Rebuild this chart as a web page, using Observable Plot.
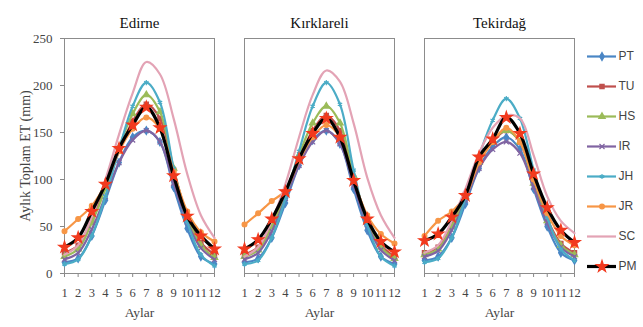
<!DOCTYPE html>
<html><head><meta charset="utf-8">
<script src="https://cdn.jsdelivr.net/npm/d3@7"></script>
<script src="https://cdn.jsdelivr.net/npm/@observablehq/plot@0.6"></script>
<style>
body{margin:0;background:#fff}
#wrap{position:relative;width:643px;height:327px;overflow:hidden;background:#fff}
#wrap > svg{position:absolute;top:0}
#wrap > svg.main text{font-family:"Liberation Serif","Times New Roman",serif}
#wrap > svg.leg text{font-family:"Liberation Sans Narrow","Liberation Sans",sans-serif}
</style></head><body><div id="wrap"></div>
<script>
const months = [1,2,3,4,5,6,7,8,9,10,11,12];
const cities = ["Edirne","Kırklareli","Tekirdağ"];
const seriesNames = ["PT","TU","HS","IR","JH","JR","SC","PM"];
const lineColors = ["#4a86c5","#c0504d","#9bbb59","#8064a2","#4bacc6","#f79646","#e3a3b5","#000000"];
const markerColors = ["#4a86c5","#c0504d","#9bbb59","#8064a2","#4bacc6","#f79646",null,"#f23a1e"];
const markerSymbols = ["diamond","square","triangle","times","asterisk","circle",null,"star"];
const yTicks = [0,50,100,150,200,250];

// series order: PT, TU, HS, IR, JH, JR, SC, PM
const edirneET = [
  [12,16,40,78,118,145,152,140,92,48,18,10],
  [22,30,58,92,130,162,180,165,110,62,33,20],
  [18,26,54,90,134,170,190,172,112,60,30,17],
  [15,22,47,82,118,142,152,140,96,55,27,15],
  [10,15,40,82,132,178,203,182,112,55,20,8],
  [45,58,72,95,130,154,166,154,108,66,44,34],
  [20,30,60,100,148,192,225,212,165,106,62,38],
  [28,38,66,95,133,158,177,155,104,61,40,26]
];
const kirklareliET = [
  [12,16,38,75,115,142,152,138,90,46,18,10],
  [20,28,54,86,122,152,168,152,102,58,30,18],
  [18,25,50,85,126,160,178,160,104,56,28,16],
  [15,22,45,80,115,140,152,138,94,52,25,14],
  [10,14,38,80,130,178,203,180,110,52,18,8],
  [52,64,77,88,120,145,158,145,100,62,42,32],
  [18,28,56,95,145,190,216,204,160,102,62,38],
  [26,36,58,87,122,149,165,145,99,58,34,23]
];
const tekirdagET = [
  [14,18,38,74,112,135,145,132,90,50,22,14],
  [22,28,52,84,118,140,152,140,98,58,32,22],
  [20,26,50,82,118,142,152,140,96,56,30,20],
  [18,24,46,78,112,132,140,128,92,54,28,18],
  [12,16,38,80,125,163,186,165,110,60,26,14],
  [40,56,66,82,118,140,155,140,100,64,40,30],
  [22,30,56,90,128,155,168,165,126,82,56,43],
  [35,42,60,83,124,143,166,149,106,70,46,33]
];
const cityValues = [edirneET, kirklareliET, tekirdagET];

const rows = [];
cities.forEach((c, ci) => cityValues[ci].forEach((vals, si) => vals.forEach((v, mi) =>
  rows.push({city: c, series: seriesNames[si], month: months[mi], value: v}))));

const serif = "'Liberation Serif', 'Times New Roman', serif";
const marks = [];
seriesNames.forEach((s, si) => {
  const d = rows.filter(r => r.series === s);
  marks.push(Plot.line(d, {x: "month", y: "value", fx: "city", stroke: lineColors[si],
    strokeWidth: s === "PM" ? 3.2 : 2.2, curve: "catmull-rom"}));
  if (markerSymbols[si]) {
    marks.push(Plot.dot(d, {x: "month", y: "value", fx: "city", symbol: markerSymbols[si],
      fill: markerColors[si], stroke: markerColors[si], strokeWidth: 1.2,
      r: s === "PM" ? 3.6 : 2.4}));
  }
});

const chart = Plot.plot({
  width: 643, height: 327,
  marginLeft: 64, marginRight: 69, marginTop: 38, marginBottom: 54,
  style: {fontFamily: serif, fontSize: "12px", color: "#444", background: "transparent"},
  fx: {domain: cities, paddingInner: 1/6, paddingOuter: 0, label: null},
  x: {domain: [1, 12]},
  y: {domain: [0, 250]},
  marks: [
    Plot.axisFx({anchor: "top", tickSize: 0, tickPadding: 11, fontSize: 15, fill: "#111", label: null, fontFamily: serif}),
    Plot.axisX({ticks: months, tickSize: 4, tickPadding: 11, label: null, fontSize: 12.5, stroke: "#888", fontFamily: serif}),
    Plot.axisY({ticks: yTicks, tickSize: 4, tickPadding: 8, fontSize: 13, stroke: "#888", fontFamily: serif, label: null}),
    Plot.axisY({ticks: [], tickSize: 0, fontSize: 14, fontFamily: serif,
      label: "Aylık Toplam ET (mm)", labelAnchor: "center", labelOffset: 44, labelArrow: "none"}),
    Plot.frame({stroke: "#8c8c8c"}),
    ...marks,
    Plot.text(cities, {fx: d => d, text: () => "Aylar", frameAnchor: "bottom", dy: 43, fontSize: 13.5, fontFamily: serif, fill: "#444"})
  ]
});
chart.classList.add("main");
document.getElementById("wrap").appendChild(chart);

const sans = "'Liberation Sans Narrow', 'Liberation Sans', sans-serif";
const legendMarks = [];
seriesNames.forEach((s, si) => {
  legendMarks.push(Plot.ruleY([s], {y: d => d, stroke: lineColors[si], strokeWidth: s === "PM" ? 3.2 : 2.2}));
  if (markerSymbols[si]) legendMarks.push(Plot.dot([s], {y: d => d, frameAnchor: "middle",
    symbol: markerSymbols[si], fill: markerColors[si], stroke: markerColors[si], strokeWidth: 1.2,
    r: s === "PM" ? 3.6 : 2.4}));
  legendMarks.push(Plot.text([s], {y: d => d, text: d => d, frameAnchor: "right", textAnchor: "start",
    dx: 2, fontSize: 12, fill: "#444", fontFamily: sans}));
});
const legend = Plot.plot({
  width: 63, height: 327,
  marginLeft: 7, marginRight: 27, marginTop: 0, marginBottom: 0,
  style: {background: "transparent", overflow: "visible"},
  y: {type: "point", domain: seriesNames, range: [38, 283], axis: null},
  marks: legendMarks
});
legend.classList.add("leg");
legend.style.left = "580px";
document.getElementById("wrap").appendChild(legend);
</script></body></html>
